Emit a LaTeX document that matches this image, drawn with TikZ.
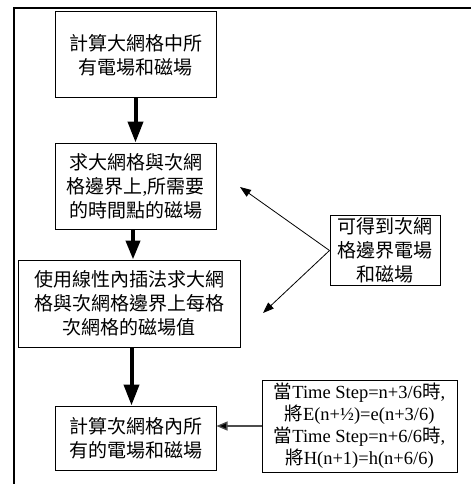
\documentclass[tikz,border=0pt]{standalone}
\usepackage{fontspec}
\setmainfont{Liberation Serif}
\newfontfamily\cjk{Noto Sans CJK TC}
\usetikzlibrary{positioning, arrows.meta}

\begin{document}
\begin{tikzpicture}[
                x=1pt, y=-1pt,
                node distance=30pt,
                block/.style={rectangle, draw=black, line width=1pt, minimum width=161pt, minimum height=86pt, align=center, inner sep=2pt, font=\cjk\fontsize{19}{24}\selectfont},
                note/.style={rectangle, draw=black, line width=1pt, align=center, inner sep=2pt},
                bigarrow/.style={line width=4pt, -{Triangle[length=21pt, width=15pt]}},
                thinarrow/.style={line width=0.8pt, {Triangle[length=11pt, width=8pt]}-},
                frame/.style={line width=1.6pt}
            ]
            \useasboundingbox (0,0) rectangle (471,484);

            % Outer frame
            \draw[frame] (14,484) -- (14,8) -- (471,8);

            % Main steps
            \node[block] (allgrid) at (135.5,55) {計算大網格中所\\有電場和磁場};
            \node[block, below=44pt of allgrid] (boundary) {求大網格與次網\\格邊界上{\rmfamily ,}所需要\\的時間點的磁場};
            \node[block, below=30pt of boundary, xshift=-6.5pt, minimum width=222pt, minimum height=87pt] (interp) {使用線性內插法求大網\\格與次網格邊界上每格\\次網格的磁場值};
            \node[block, below=58pt of interp, xshift=6.5pt, minimum height=64pt] (subgrid) {計算次網格內所\\有的電場和磁場};

            % Side notes
            \node[note, minimum width=110pt, minimum height=65pt, font=\cjk\fontsize{19}{24}\selectfont] (result) at (385,250.5) {可得到次網\\格邊界電場\\和磁場};
            \node[note, minimum width=195pt, minimum height=92pt, font=\fontsize{18.5}{22}\selectfont] (timestep) at (359.5,426) {{\cjk 當}Time Step=n+3/6{\cjk 時},\\{\cjk 將}E(n+½)=e(n+3/6)\\{\cjk 當}Time Step=n+6/6{\cjk 時},\\{\cjk 將}H(n+1)=h(n+6/6)};

            \coordinate (uptip) at (240,187);
            \coordinate (downtip) at (263,313);

            % Edges
            \draw[bigarrow] (allgrid) -- (boundary);
            \draw[bigarrow, -{Triangle[length=19pt, width=14pt]}] (boundary.south -| interp.north) ++(4pt,0) coordinate (b2) (b2) -- (b2 |- interp.north);
            \draw[bigarrow] (interp.south -| subgrid.north) ++(-4pt,0) coordinate (b3) (b3) -- (b3 |- subgrid.north);
            \draw[thinarrow] (uptip) -- (result.west);
            \draw[thinarrow] (downtip) -- (result.west);
            \draw[line width=1.3pt, draw=black!70, -{Triangle[length=11pt, width=9pt, fill=black]}] (timestep.west) -- (timestep.west -| subgrid.east);

        \end{tikzpicture}
\end{document}
